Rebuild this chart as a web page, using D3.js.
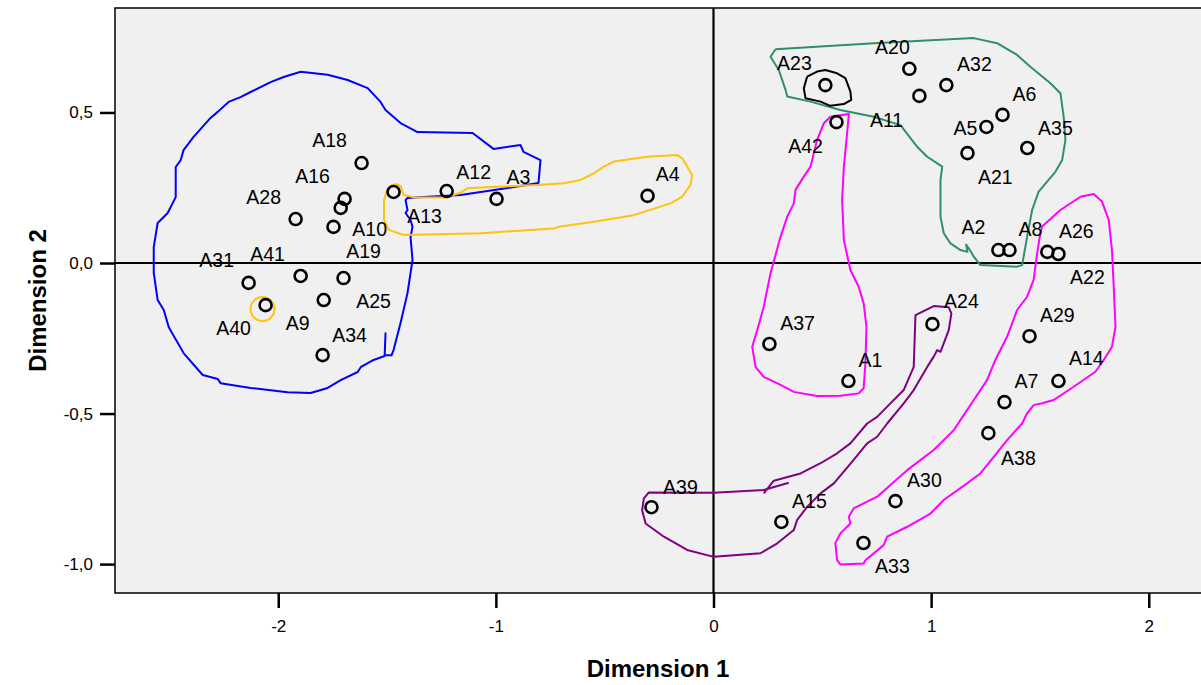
<!DOCTYPE html>
<html lang="en">
<head>
	<meta charset="UTF-8">
	<title>dimensions</title>
	<script src="https://cdn.jsdelivr.net/npm/d3@7/dist/d3.min.js"></script>
	<style>
		body { margin: 0; background: #fff; }
		text { font-family: "Liberation Sans", Arial, sans-serif; }
	</style>
</head>
<body>
<script>
// object scores
const names = ['A18', 'A16', 'A10', 'A19', 'A28', 'A13', 'A31', 'A41', 'A25', 'A9', 'A40', 'A34', 'A12', 'A3', 'A4',
	'A23', 'A20', 'A11', 'A32', 'A6', 'A5', 'A35', 'A21', 'A42', 'A2', 'A8', 'A26', 'A22',
	'A37', 'A1', 'A24', 'A29', 'A14', 'A7', 'A38', 'A30', 'A33', 'A15', 'A39']
const dim1 = [-1.617, -1.695, -1.713, -1.746, -1.920, -1.470, -2.136, -1.897, -1.700, -1.791, -2.058, -1.796, -1.226, -0.997, -0.303,
	0.514, 0.900, 0.946, 1.070, 1.328, 1.254, 1.442, 1.167, 0.565, 1.309, 1.360, 1.534, 1.585,
	0.257, 0.620, 1.006, 1.452, 1.585, 1.337, 1.263, 0.836, 0.689, 0.312, -0.285]
const dim2 = [0.332, 0.213, 0.183, 0.120, 0.146, 0.236, -0.066, -0.043, -0.050, -0.123, -0.140, -0.306, 0.239, 0.213, 0.223,
	0.591, 0.645, 0.555, 0.591, 0.492, 0.452, 0.382, 0.365, 0.468, 0.043, 0.043, 0.037, 0.030,
	-0.269, -0.392, -0.203, -0.243, -0.392, -0.462, -0.565, -0.791, -0.930, -0.860, -0.811]
// where each label sits, in the same units
const labelX = [-1.764, -1.842, -1.580, -1.608, -2.067, -1.328, -2.283, -2.049, -1.562, -1.911, -2.205, -1.672, -1.102, -0.896, -0.211,
	0.372, 0.822, 0.795, 1.199, 1.429, 1.158, 1.571, 1.295, 0.423, 1.194, 1.456, 1.667, 1.718,
	0.386, 0.721, 1.139, 1.580, 1.713, 1.438, 1.401, 0.969, 0.822, 0.441, -0.152]
const labelY = [0.409, 0.289, 0.114, 0.040, 0.219, 0.156, 0.010, 0.030, -0.126, -0.199, -0.216, -0.239, 0.302, 0.286, 0.296,
	0.664, 0.718, 0.475, 0.661, 0.561, 0.449, 0.449, 0.286, 0.389, 0.120, 0.113, 0.106, -0.047,
	-0.199, -0.322, -0.126, -0.173, -0.316, -0.392, -0.648, -0.721, -1.007, -0.791, -0.744]

const xTicks = [-2, -1, 0, 1, 2]
const yTicks = [-1, -0.5, 0, 0.5]

// hand drawn group outlines
const blueOutline = [[-1.897, 0.635], [-1.773, 0.625], [-1.681, 0.608], [-1.589, 0.581], [-1.530, 0.535], [-1.507, 0.508],
	[-1.438, 0.465], [-1.360, 0.435], [-1.107, 0.432], [-1.011, 0.379], [-0.887, 0.392], [-0.873, 0.369], [-0.795, 0.342],
	[-0.804, 0.266], [-0.946, 0.249], [-1.162, 0.226], [-1.332, 0.219], [-1.406, 0.216], [-1.415, 0.209], [-1.406, 0.176],
	[-1.415, 0.166], [-1.392, 0.143], [-1.383, 0.120], [-1.392, 0.086], [-1.383, 0.010], [-1.406, -0.100], [-1.438, -0.199],
	[-1.470, -0.289], [-1.479, -0.306], [-1.511, -0.306], [-1.507, -0.233], [-1.511, -0.309], [-1.562, -0.322],
	[-1.621, -0.346], [-1.635, -0.362], [-1.713, -0.389], [-1.773, -0.415], [-1.851, -0.432], [-1.957, -0.429],
	[-2.127, -0.415], [-2.265, -0.399], [-2.278, -0.385], [-2.347, -0.372], [-2.435, -0.299], [-2.503, -0.213],
	[-2.526, -0.156], [-2.554, -0.123], [-2.572, -0.033], [-2.572, 0.053], [-2.554, 0.133], [-2.508, 0.166],
	[-2.485, 0.199], [-2.471, 0.219], [-2.471, 0.319], [-2.448, 0.342], [-2.435, 0.375], [-2.389, 0.419], [-2.311, 0.482],
	[-2.278, 0.502], [-2.228, 0.535], [-2.173, 0.551], [-2.127, 0.568], [-2.035, 0.601], [-1.975, 0.618], [-1.897, 0.635]]
const yellowOutline = [[-1.131, 0.248], [-0.994, 0.253], [-0.810, 0.259], [-0.688, 0.265], [-0.611, 0.276], [-0.550, 0.298],
	[-0.504, 0.320], [-0.458, 0.337], [-0.305, 0.353], [-0.167, 0.359], [-0.144, 0.348], [-0.098, 0.292], [-0.106, 0.259],
	[-0.144, 0.220], [-0.198, 0.198], [-0.366, 0.159], [-0.550, 0.137], [-0.703, 0.121], [-0.734, 0.115], [-1.070, 0.099],
	[-1.423, 0.093], [-1.492, 0.110], [-1.514, 0.143], [-1.514, 0.209], [-1.499, 0.243], [-1.476, 0.259], [-1.453, 0.262],
	[-1.435, 0.253], [-1.430, 0.237], [-1.423, 0.226], [-1.377, 0.218], [-1.223, 0.218], [-1.162, 0.234], [-1.131, 0.248]]
const yellowRing = [-2.072, -0.153]
const blackOutline = [[0.430, 0.619], [0.415, 0.580], [0.423, 0.547], [0.492, 0.536], [0.537, 0.522], [0.599, 0.528],
	[0.633, 0.542], [0.629, 0.569], [0.606, 0.614], [0.568, 0.630], [0.514, 0.641], [0.476, 0.636], [0.430, 0.619]]
const greenOutline = [[0.285, 0.710], [0.736, 0.730], [1.196, 0.747], [1.303, 0.730], [1.395, 0.691], [1.456, 0.652],
	[1.548, 0.597], [1.594, 0.564], [1.609, 0.486], [1.617, 0.409], [1.602, 0.342], [1.571, 0.303], [1.494, 0.237],
	[1.464, 0.176], [1.441, 0.087], [1.418, -0.007], [1.395, -0.012], [1.226, -0.007], [1.196, 0.021], [1.181, 0.040],
	[1.161, 0.061], [1.167, 0.037], [1.135, 0.043], [1.089, 0.065], [1.058, 0.099], [1.043, 0.154], [1.043, 0.276],
	[1.051, 0.320], [0.982, 0.353], [0.936, 0.386], [0.859, 0.458], [0.736, 0.486], [0.583, 0.508], [0.446, 0.536],
	[0.339, 0.553], [0.331, 0.575], [0.300, 0.641], [0.262, 0.685], [0.285, 0.710]]
const magentaOutline1 = [[0.537, 0.486], [0.622, 0.495], [0.614, 0.431], [0.599, 0.320], [0.591, 0.209], [0.599, 0.076],
	[0.629, -0.023], [0.667, -0.079], [0.690, -0.134], [0.703, -0.212], [0.698, -0.333], [0.690, -0.416], [0.667, -0.433],
	[0.583, -0.441], [0.476, -0.442], [0.369, -0.428], [0.308, -0.405], [0.231, -0.378], [0.193, -0.345], [0.178, -0.278],
	[0.201, -0.223], [0.231, -0.145], [0.262, -0.034], [0.308, 0.087], [0.339, 0.154], [0.369, 0.198], [0.377, 0.243],
	[0.415, 0.287], [0.446, 0.320], [0.476, 0.409], [0.507, 0.464], [0.537, 0.486]]
const magentaOutline2 = [[1.510, 0.121], [1.594, 0.176], [1.686, 0.220], [1.747, 0.229], [1.785, 0.204], [1.816, 0.143],
	[1.831, 0.043], [1.839, -0.079], [1.847, -0.212], [1.831, -0.278], [1.793, -0.322], [1.755, -0.361], [1.655, -0.411],
	[1.563, -0.455], [1.510, -0.466], [1.471, -0.472], [1.441, -0.499], [1.418, -0.533], [1.349, -0.588], [1.288, -0.644],
	[1.226, -0.699], [1.165, -0.732], [1.058, -0.787], [0.997, -0.832], [0.890, -0.876], [0.798, -0.909], [0.782, -0.937],
	[0.698, -0.987], [0.690, -0.998], [0.583, -1.001], [0.568, -0.987], [0.560, -0.931], [0.583, -0.898], [0.629, -0.865],
	[0.622, -0.843], [0.644, -0.815], [0.752, -0.776], [0.890, -0.688], [1.012, -0.621], [1.104, -0.555], [1.196, -0.455],
	[1.257, -0.389], [1.295, -0.322], [1.349, -0.245], [1.395, -0.156], [1.441, -0.112], [1.471, -0.056], [1.487, 0.032],
	[1.502, 0.099], [1.510, 0.121]]
const purpleOutline = [[0.231, -0.765], [0.277, -0.723], [0.400, -0.699], [0.492, -0.665], [0.568, -0.632], [0.629, -0.599],
	[0.706, -0.533], [0.752, -0.511], [0.798, -0.477], [0.874, -0.422], [0.920, -0.345], [0.928, -0.173], [1.012, -0.143],
	[1.081, -0.147], [1.093, -0.167], [1.081, -0.223], [1.043, -0.295], [1.028, -0.289], [1.012, -0.311], [0.982, -0.345],
	[0.920, -0.422], [0.874, -0.466], [0.798, -0.533], [0.752, -0.577], [0.706, -0.599], [0.644, -0.654], [0.553, -0.732],
	[0.492, -0.765], [0.430, -0.810], [0.384, -0.854], [0.369, -0.887], [0.293, -0.931], [0.216, -0.964], [0.001, -0.976],
	[-0.121, -0.953], [-0.228, -0.909], [-0.312, -0.865], [-0.328, -0.821], [-0.320, -0.782], [-0.297, -0.762],
	[0.001, -0.763], [0.231, -0.754], [0.346, -0.730]]

const outlines = [
	{ pts: blueOutline, color: '#0000ff' },
	{ pts: yellowOutline, color: '#ffc20e' },
	{ pts: greenOutline, color: '#2f9065' },
	{ pts: magentaOutline1, color: '#ff00ff' },
	{ pts: magentaOutline2, color: '#ff00ff' },
	{ pts: purpleOutline, color: '#800080' },
	{ pts: blackOutline, color: '#000000' }
]

const width = 1201, height = 685
const mLeft = 115, mTop = 8, mRight = 1201, mBottom = 593

let x = d3.scaleLinear().domain([-2.75, 2.24]).range([mLeft, mRight])
let y = d3.scaleLinear().domain([-1.096, 0.847]).range([mBottom, mTop])

let svg = d3.select('body').append('svg')
	.attr('width', width)
	.attr('height', height)

svg.append('rect')
	.attr('x', mLeft)
	.attr('y', mTop)
	.attr('width', mRight - mLeft + 10)
	.attr('height', mBottom - mTop)
	.attr('fill', '#f0f0f0')
	.attr('stroke', '#000')
	.attr('stroke-width', 1.5)

// spss style: comma decimals, plain hyphen
let comma = v => v.toFixed(1).replace('.', ',')

let yAxis = svg.append('g')
	.attr('transform', `translate(${mLeft},0)`)
	.call(d3.axisLeft(y).tickValues(yTicks).tickFormat(comma).tickSize(15).tickPadding(7))
let xAxis = svg.append('g')
	.attr('transform', `translate(0,${mBottom})`)
	.call(d3.axisBottom(x).tickValues(xTicks).tickFormat(v => String(v)).tickSize(15).tickPadding(12))

for (let ax of [xAxis, yAxis]) {
	ax.select('.domain').remove()
	ax.selectAll('line').attr('stroke', '#000').attr('stroke-width', 2.5)
	ax.selectAll('text').attr('fill', '#000').style('font-size', '17px')
}

// zero reference lines
let plot = svg.append('g')
plot.append('line')
	.attr('x1', x(0)).attr('x2', x(0))
	.attr('y1', mTop).attr('y2', mBottom)
	.attr('stroke', '#000').attr('stroke-width', 2.2)
plot.append('line')
	.attr('x1', mLeft).attr('x2', mRight)
	.attr('y1', y(0)).attr('y2', y(0))
	.attr('stroke', '#000').attr('stroke-width', 2.2)

let line = d3.line()
	.x(d => x(d[0]))
	.y(d => y(d[1]))

plot.selectAll('path.outline')
	.data(outlines)
	.enter()
	.append('path')
	.attr('class', 'outline')
	.attr('d', d => line(d.pts))
	.attr('fill', 'none')
	.attr('stroke', d => d.color)
	.attr('stroke-width', 2)
	.attr('stroke-linejoin', 'round')

plot.append('circle')
	.attr('cx', x(yellowRing[0]))
	.attr('cy', y(yellowRing[1]))
	.attr('r', 12)
	.attr('fill', 'none')
	.attr('stroke', '#ffc20e')
	.attr('stroke-width', 2)

plot.selectAll('circle.pt')
	.data(names)
	.enter()
	.append('circle')
	.attr('class', 'pt')
	.attr('cx', (d, i) => x(dim1[i]))
	.attr('cy', (d, i) => y(dim2[i]))
	.attr('r', 6)
	.attr('fill', 'none')
	.attr('stroke', '#000')
	.attr('stroke-width', 2.6)

plot.selectAll('text.lbl')
	.data(names)
	.enter()
	.append('text')
	.attr('class', 'lbl')
	.attr('x', (d, i) => x(labelX[i]))
	.attr('y', (d, i) => y(labelY[i]))
	.attr('text-anchor', 'middle')
	.attr('dominant-baseline', 'central')
	.style('font-size', '19.5px')
	.attr('fill', '#000')
	.text(d => d)

svg.append('text')
	.attr('x', (mLeft + mRight) / 2)
	.attr('y', 668)
	.attr('text-anchor', 'middle')
	.attr('dominant-baseline', 'central')
	.style('font-size', '24px')
	.style('font-weight', 'bold')
	.text('Dimension 1')

svg.append('text')
	.attr('transform', `translate(37,${(mTop + mBottom) / 2}) rotate(-90)`)
	.attr('text-anchor', 'middle')
	.attr('dominant-baseline', 'central')
	.style('font-size', '24px')
	.style('font-weight', 'bold')
	.text('Dimension 2')
</script>
</body>
</html>
